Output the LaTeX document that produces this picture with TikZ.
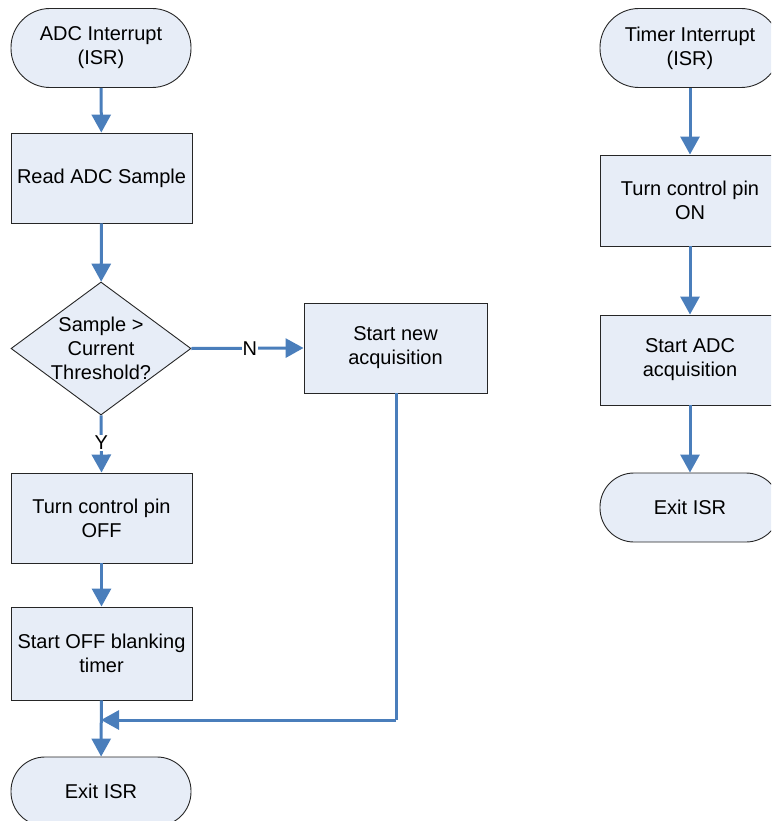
\documentclass[tikz,border=0pt]{standalone}
\usepackage{fontspec}
\setmainfont{Liberation Sans}
\usetikzlibrary{arrows.meta,shapes.geometric}
\definecolor{fillblue}{HTML}{E7EDF7}
\definecolor{arrblue}{HTML}{4A7EBB}
\tikzset{
  base/.style={draw=black!85, line width=0.9pt, fill=fillblue, inner sep=0pt, align=center, font=\fontsize{20}{24}\selectfont},
  term/.style={base, rectangle, rounded corners=39pt, minimum width=180pt, minimum height=79pt},
  procbox/.style={base, rectangle, minimum width=181pt, minimum height=90pt},
  decbox/.style={base, diamond, minimum width=180pt, minimum height=133pt},
  arr/.style={draw=arrblue, line width=3pt, -{Triangle[length=18pt,width=19pt]}},
  ln/.style={draw=arrblue, line width=3pt},
  lbl/.style={fill=white, inner sep=1pt, font=\fontsize{20}{24}\selectfont}
}
\begin{document}
\begin{tikzpicture}[x=1pt,y=-1pt]
\useasboundingbox (0,0) rectangle (771,821);
\clip (0,0) rectangle (771,821);
% left column
\node[term] (s1) at (101,48) {ADC Interrupt\\(ISR)};
\node[procbox] (r1) at (101.5,178) {Read ADC Sample};
\node[decbox] (dec) at (101,348.5) {};
\node[align=center, font=\fontsize{20}{24}\selectfont] (dect) at (101,348.5) {Sample >\\Current\\Threshold?};
\node[procbox, minimum width=183pt] (new) at (395.5,348) {Start new\\acquisition};
\node[procbox] (off) at (101.5,518) {Turn control pin\\OFF};
\node[procbox, minimum height=93pt] (blank) at (101.5,653.5) {Start OFF blanking\\timer};
\node[term, minimum height=69pt, rounded corners=34pt] (exit1) at (101,791.5) {Exit ISR};
\coordinate (corner) at (396,720);
\coordinate (merge) at (101,720);
% right column
\node[term] (t1) at (690,48) {Timer Interrupt\\(ISR)};
\node[procbox, minimum width=180pt, minimum height=91pt] (on) at (690,200.5) {Turn control pin\\ON};
\node[procbox, minimum width=180pt] (adc) at (690,360) {Start ADC\\acquisition};
\node[term, minimum height=69pt, rounded corners=34pt] (exit2) at (690,507.5) {Exit ISR};
% connectors
\draw[arr] (s1) -- (r1);
\draw[arr] (r1) -- (dec);
\draw[arr] (dec.east) -- node[lbl, pos=0.52] (nl) {N} (new.west);
\draw[arr] (dec.south) -- node[lbl, pos=0.48] (yl) {Y} (off.north);
\draw[arr] (off) -- (blank);
\draw[arr] (blank) -- (exit1);
\draw[ln] (new.south -| corner) -- (corner);
\draw[arr] (corner) -- (merge);
\draw[arr] (t1) -- (on);
\draw[arr] (on) -- (adc);
\draw[arr] (adc) -- (exit2);
\end{tikzpicture}
\end{document}
